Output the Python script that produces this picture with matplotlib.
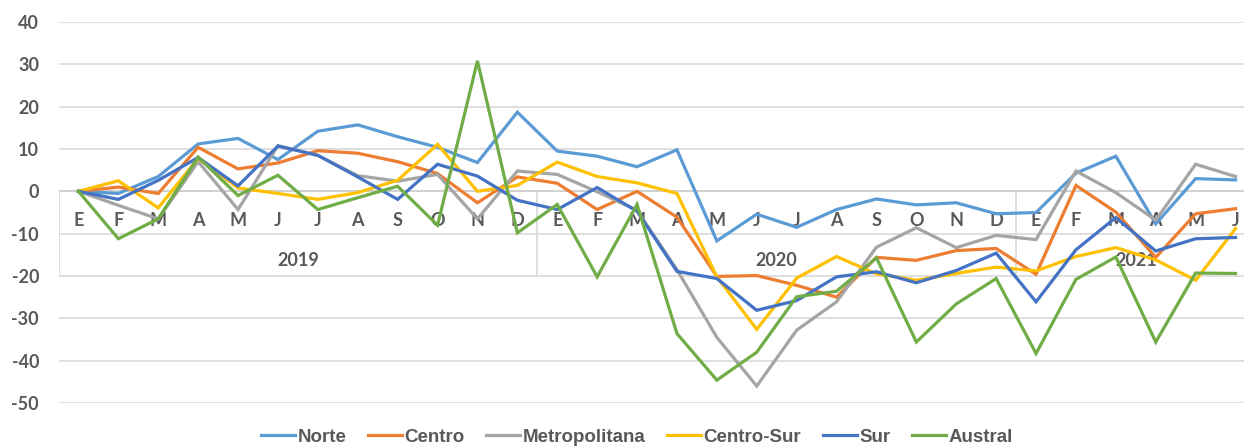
import matplotlib
matplotlib.use("Agg")
import matplotlib.pyplot as plt
import numpy as np

months = ["E", "F", "M", "A", "M", "J", "J", "A", "S", "O", "N", "D"] * 2 + ["E", "F", "M", "A", "M", "J"]
years = ["2019", "2020", "2021"]
year_spans = [(0, 11), (12, 23), (24, 29)]

norte = [0, -0.5, 3.5, 11.2, 12.5, 7.5, 14.2, 15.7, 12.9, 10.4, 6.8, 18.7,
         9.5, 8.3, 5.8, 9.8, -11.7, -5.4, -8.5, -4.3, -1.8, -3.2, -2.7, -5.3,
         -5.0, 4.3, 8.3, -7.7, 3.0, 2.7]
centro = [0, 1.0, -0.5, 10.4, 5.3, 6.7, 9.6, 9.0, 7.0, 4.2, -2.7, 3.4,
          1.9, -4.3, 0.0, -6.1, -20.1, -19.9, -22.2, -25.0, -15.6, -16.3, -14.0, -13.5,
          -19.6, 1.4, -4.9, -15.6, -5.3, -4.1]
metropolitana = [0, -3.3, -6.5, 7.0, -4.3, 10.8, 8.5, 3.7, 2.4, 4.0, -6.5, 4.8,
                 4.0, -0.1, -4.5, -18.5, -34.5, -46.0, -32.8, -26.1, -13.2, -8.6, -13.3, -10.4,
                 -11.4, 4.8, -0.3, -6.8, 6.4, 3.5]
centro_sur = [0, 2.5, -3.9, 7.8, 0.8, -0.5, -1.9, -0.3, 2.6, 11.1, 0.0, 1.4,
              6.9, 3.5, 2.0, -0.5, -20.2, -32.6, -20.5, -15.4, -19.5, -21.0, -19.4, -17.9,
              -18.8, -15.4, -13.3, -16.2, -21.0, -8.8]
sur = [0, -1.9, 2.6, 8.0, 1.3, 10.7, 8.5, 3.4, -1.9, 6.4, 3.6, -2.1,
       -4.3, 0.9, -4.7, -18.9, -20.6, -28.1, -25.8, -20.2, -19.0, -21.6, -18.7, -14.6,
       -26.1, -13.8, -6.2, -14.1, -11.2, -10.9]
austral = [0, -11.2, -6.5, 8.1, -1.0, 3.8, -4.3, -1.5, 1.2, -8.0, 30.8, -9.8,
           -3.1, -20.2, -3.1, -33.6, -44.6, -38.0, -24.9, -23.6, -15.7, -35.6, -26.6, -20.6,
           -38.3, -20.8, -15.5, -35.6, -19.3, -19.4]

series = [("Norte", norte, "#5B9BD5"), ("Centro", centro, "#ED7D31"),
          ("Metropolitana", metropolitana, "#A5A5A5"), ("Centro-Sur", centro_sur, "#FFC000"),
          ("Sur", sur, "#4472C4"), ("Austral", austral, "#70AD47")]

W, H = 1244, 448
fig = plt.figure(figsize=(W / 100, H / 100), dpi=100)
x0, x1 = 58.5, 1255.5
y_top, y_bot = 22, 403
ax = fig.add_axes([x0 / W, (H - y_bot) / H, (x1 - x0) / W, (y_bot - y_top) / H])
ax.set_xlim(-0.5, 29.5)
ax.set_ylim(-50, 40)

txtcol = "#595959"
font = ["Lato", "DejaVu Sans"]

for s in ax.spines.values():
    s.set_visible(False)
ax.set_xticks([])
ax.set_yticks(np.arange(-50, 41, 10))
ax.set_yticklabels([str(v) for v in range(-50, 41, 10)], fontsize=13, fontweight="bold",
                   color=txtcol, family=font)
ax.tick_params(axis="y", length=0, pad=14)
for v in range(-50, 41, 10):
    ax.axhline(v, color="#D9D9D9" if v != 0 else "#C8C8C8", lw=1.2, zorder=0.5)

# category separators
for xsep in [-0.5, 11.5, 23.5]:
    ax.plot([xsep, xsep], [0, -19.8], color="#D9D9D9", lw=1.2, zorder=0.5)

xs = np.arange(len(months))
for i, m in enumerate(months):
    ax.text(i, -6.9, m, ha="center", va="center", fontsize=13, fontweight="bold",
            color=txtcol, family=font, zorder=1)
for yr, (a, b) in zip(years, year_spans):
    ax.text((a + b) / 2, -16.4, yr, ha="center", va="center", fontsize=13,
            fontweight="bold", color=txtcol, family=font, zorder=1)

handles = []
for name, vals, col in series:
    h, = ax.plot(xs, vals, color=col, lw=2.3, label=name, zorder=3,
                 solid_joinstyle="miter", clip_on=False)
    handles.append(h)

fig.legend(handles=handles, loc="center", bbox_to_anchor=(637 / W, 11 / H), ncol=6,
           frameon=False, handlelength=1.8, handletextpad=0.15, columnspacing=1.15,
           prop={"family": ["Liberation Sans Narrow", "Liberation Sans"], "weight": "bold",
                 "size": 13.5}, labelcolor=txtcol)

fig.savefig("out.png", dpi=100)
